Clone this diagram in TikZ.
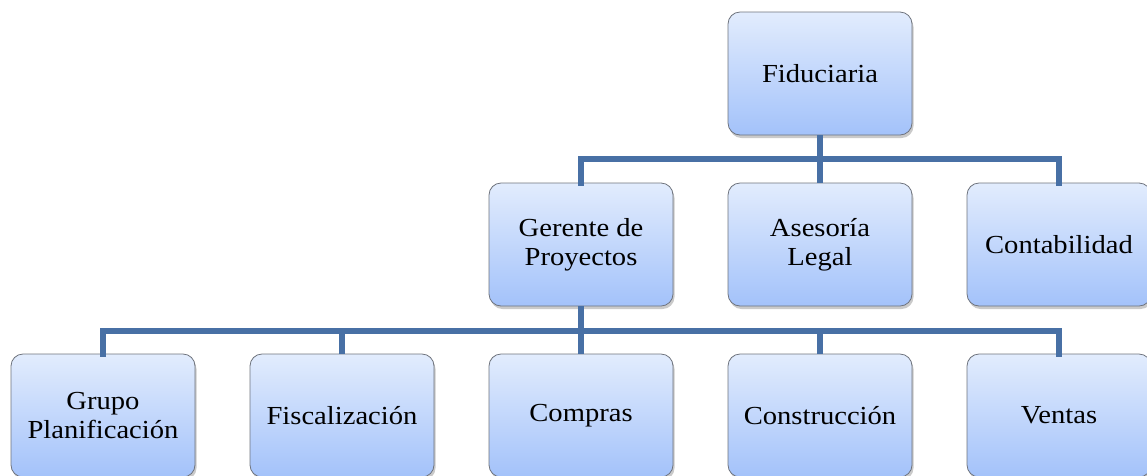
\documentclass[tikz,border=0pt]{standalone}
\usepackage{fontspec}
\setmainfont{Liberation Serif}[FakeStretch=1.1]
\usetikzlibrary{shadows}
\definecolor{linec}{RGB}{72,112,165}
\definecolor{boxtop}{RGB}{226,236,253}
\definecolor{boxbot}{RGB}{163,194,250}
\definecolor{boxdraw}{RGB}{110,115,125}
\tikzset{
  orgbox/.style={rectangle, rounded corners=12pt, minimum width=184pt, minimum height=123pt,
    draw=boxdraw, line width=0.8pt, top color=boxtop, bottom color=boxbot,
    align=center, font=\fontsize{26}{29}\selectfont, inner sep=2pt,
    drop shadow={shadow xshift=1.5pt, shadow yshift=-3pt, opacity=0.35, fill=black!60}},
  conn/.style={draw=linec, line width=6pt, line cap=rect}
}
\begin{document}
\begin{tikzpicture}[x=1pt,y=-1pt]
\useasboundingbox (0,0) rectangle (1147,475);
\clip (0,0) rectangle (1147,475);
\coordinate (b1) at (0,159);
\coordinate (b2) at (0,331);
\node[orgbox] (fid) at (820,73.5) {Fiduciaria};
\node[orgbox] (ger) at (581,244.5) {Gerente de\\Proyectos};
\node[orgbox] (ase) at (820,244.5) {Asesoría\\Legal};
\node[orgbox] (con) at (1059,244.5) {Contabilidad};
\node[orgbox] (gru) at (103,415.5) {Grupo\\Planificación};
\node[orgbox] (fis) at (342,415.5) {Fiscalización};
\node[orgbox] (com) at (581,415.5) {Compras};
\node[orgbox] (cst) at (820,415.5) {Construcción};
\node[orgbox] (ven) at (1059,415.5) {Ventas};
\draw[conn, line cap=butt] (fid.south) -- (fid.south |- b1);
\draw[conn] (ger.north) -- (ger.north |- b1) -- (con.north |- b1) -- (con.north);
\draw[conn, line cap=butt] (ase.north |- b1) -- (ase.north);
\draw[conn, line cap=butt] (ger.south) -- (ger.south |- b2);
\draw[conn] (gru.north) -- (gru.north |- b2) -- (ven.north |- b2) -- (ven.north);
\draw[conn, line cap=butt] (fis.north |- b2) -- (fis.north);
\draw[conn, line cap=butt] (com.north |- b2) -- (com.north);
\draw[conn, line cap=butt] (cst.north |- b2) -- (cst.north);
\end{tikzpicture}
\end{document}
